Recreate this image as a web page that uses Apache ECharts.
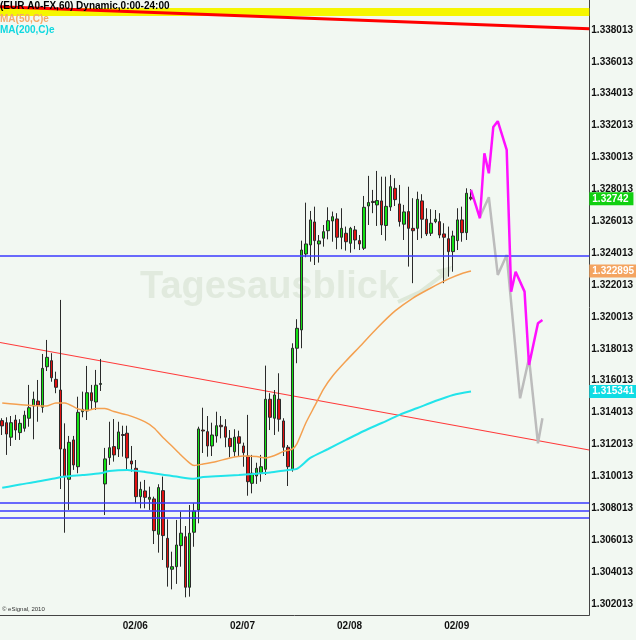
<!DOCTYPE html>
<html><head><meta charset="utf-8">
<script src="https://cdn.jsdelivr.net/npm/echarts@6/dist/echarts.min.js"></script>
<style>html,body{margin:0;padding:0;background:#f2f8f2;}#c{width:636px;height:640px;}</style>
</head><body><div id="c"></div>
<script>
// ---------- DATA ----------
const dayNames = ['02/04','02/05','02/06','02/07','02/08','02/09','02/10'];
const dayLabels = ['02/06','02/07','02/08','02/09'];
const startHour = 21;           // first bar: 02/04 21:00
const slotCount = 132;          // hourly slots on the axis

// [open, close, low, high]
const ohlc = [
[1.31351,1.31318,1.31261,1.31366],[1.31338,1.31267,1.31136,1.31372],[1.31247,1.31338,1.31192,1.31380],
[1.31355,1.31292,1.31230,1.31387],[1.31276,1.31334,1.31230,1.31360],[1.31303,1.31385,1.31282,1.31413],
[1.31366,1.31432,1.31313,1.31575],[1.31443,1.31485,1.31234,1.31533],[1.31474,1.31449,1.31344,1.31606],
[1.31435,1.31679,1.31401,1.31769],[1.31689,1.31748,1.31662,1.31857],[1.31727,1.31620,1.31595,1.31774],
[1.31610,1.31560,1.31523,1.31658],[1.31543,1.31173,1.30922,1.32108],[1.31173,1.31000,1.30648,1.31334],
[1.30983,1.31215,1.30791,1.31255],[1.31230,1.31073,1.31042,1.31255],[1.31062,1.31403,1.31021,1.31501],
[1.31407,1.31422,1.31372,1.31533],[1.31412,1.31526,1.31355,1.31694],[1.31526,1.31476,1.31418,1.31575],
[1.31468,1.31573,1.31418,1.31669],[1.31578,1.31584,1.31537,1.31738],[1.30954,1.31111,1.30759,1.31180],
[1.31119,1.31181,1.31073,1.31344],[1.31188,1.31136,1.31094,1.31361],[1.31173,1.31280,1.31123,1.31344],
[1.31264,1.31258,1.31125,1.31319],[1.31272,1.31117,1.31042,1.31319],[1.31098,1.31079,1.31031,1.31192],
[1.31052,1.30874,1.30833,1.31104],[1.30874,1.30920,1.30801,1.30968],[1.30910,1.30870,1.30801,1.30979],
[1.30858,1.30870,1.30791,1.30937],[1.30860,1.30661,1.30577,1.30874],[1.30638,1.30931,1.30523,1.30952],
[1.30912,1.30630,1.30477,1.31000],[1.30613,1.30431,1.30310,1.30732],[1.30419,1.30435,1.30293,1.30529],
[1.30435,1.30571,1.30327,1.30728],[1.30567,1.30645,1.30435,1.30780],[1.30623,1.30306,1.30243,1.30690],
[1.30306,1.30645,1.30247,1.30822],[1.30651,1.30784,1.30560,1.30833],[1.30791,1.31299,1.30707,1.31313],
[1.31292,1.31286,1.31148,1.31432],[1.31282,1.31192,1.31125,1.31380],[1.31192,1.31261,1.31129,1.31338],
[1.31255,1.31319,1.31213,1.31407],[1.31322,1.31313,1.31240,1.31380],[1.31313,1.31247,1.31184,1.31360],
[1.31240,1.31188,1.31121,1.31292],[1.31156,1.31247,1.31125,1.31297],[1.31250,1.31209,1.31125,1.31288],
[1.31192,1.31150,1.31062,1.31213],[1.31129,1.30968,1.30880,1.31387],[1.30958,1.31021,1.30895,1.31136],
[1.31004,1.31052,1.30954,1.31087],[1.31025,1.31062,1.30968,1.31136],[1.31046,1.31485,1.31010,1.31696],
[1.31485,1.31372,1.31292,1.31523],[1.31366,1.31512,1.31261,1.31543],[1.31485,1.31360,1.31282,1.31648],
[1.31349,1.31184,1.31129,1.31366],[1.31184,1.31062,1.30941,1.31198],[1.31046,1.31805,1.31031,1.31836],
[1.31805,1.31930,1.31711,1.31987],[1.31920,1.32421,1.31805,1.32480],[1.32396,1.32459,1.32376,1.32718],
[1.32453,1.32610,1.32348,1.32666],[1.32597,1.32480,1.32327,1.32693],[1.32459,1.32478,1.32342,1.32515],
[1.32495,1.32536,1.32442,1.32578],[1.32542,1.32605,1.32488,1.32689],[1.32603,1.32630,1.32473,1.32662],
[1.32616,1.32501,1.32426,1.32652],[1.32501,1.32557,1.32426,1.32683],[1.32526,1.32473,1.32417,1.32568],
[1.32463,1.32557,1.32404,1.32566],[1.32547,1.32484,1.32426,1.32572],[1.32480,1.32459,1.32421,1.32515],
[1.32432,1.32689,1.32421,1.32760],[1.32697,1.32719,1.32578,1.32886],[1.32726,1.32719,1.32652,1.32798],
[1.32704,1.32731,1.32572,1.32917],[1.32729,1.32578,1.32515,1.32881],[1.32575,1.32695,1.32480,1.32881],
[1.32691,1.32818,1.32666,1.32892],[1.32808,1.32737,1.32697,1.32871],[1.32710,1.32599,1.32568,1.32829],
[1.32583,1.32660,1.32484,1.32704],[1.32662,1.32557,1.32317,1.32818],[1.32557,1.32542,1.32213,1.32746],
[1.32557,1.32739,1.32484,1.32787],[1.32729,1.32614,1.32495,1.32771],[1.32614,1.32522,1.32509,1.32683],
[1.32526,1.32589,1.32509,1.32677],[1.32599,1.32614,1.32589,1.32672],[1.32599,1.32515,1.32495,1.32652],
[1.32522,1.32501,1.32213,1.32589],[1.32492,1.32411,1.32254,1.32568],[1.32411,1.32509,1.32285,1.32542],
[1.32480,1.32610,1.32421,1.32683],[1.32610,1.32530,1.32473,1.32693],[1.32530,1.32777,1.32484,1.32808],
[1.32752,1.32742,1.32732,1.32802]
];

// moving averages, [bar index, value]
const ma50Pts = [[0,1.31462],[5,1.31449],[10,1.31443],[12,1.31462],[14,1.31462],[17,1.31424],[19,1.31415],
[21,1.31427],[23,1.31427],[25,1.31408],[28,1.31387],[32,1.31343],[34,1.31305],[36,1.31245],[38,1.31192],
[40,1.31136],[42,1.31085],[43,1.31070],[45,1.31079],[48,1.31095],[51,1.31117],[54,1.31129],[57,1.31126],
[59,1.31117],[61,1.31132],[63,1.31158],[65,1.31173],[66,1.31205],[68,1.31336],[70,1.31443],[72,1.31550],
[74,1.31631],[77,1.31725],[80,1.31813],[84,1.31932],[88,1.32039],[92,1.32120],[96,1.32183],[100,1.32240],
[103,1.32274],[105,1.322895]];
const ma200Pts = [[0,1.30930],[4,1.30951],[7,1.30964],[11,1.30985],[14,1.31000],[18,1.31010],[22,1.31021],
[24,1.31035],[28,1.31042],[32,1.31029],[35,1.31016],[39,1.31000],[43,1.30987],[45,1.30998],[49,1.31004],
[53,1.31010],[56,1.31016],[60,1.31025],[64,1.31042],[66,1.31048],[69,1.31117],[73,1.31173],[77,1.31230],
[81,1.31286],[85,1.31336],[89,1.31387],[93,1.31430],[97,1.31474],[101,1.31512],[105,1.315341]];

// projected paths
const projMagenta = [[105,1.32798],[107,1.32620],[108,1.33028],[109,1.32902],[110,1.33193],[111,1.33229],
[113,1.33049],[114,1.32160],[115,1.32285],[117,1.32160],[118,1.31700],[120,1.31962],[121,1.31982]];
const projGray = [[107,1.32630],[109,1.32752],[111,1.32265],[113,1.32390],[116,1.31491],[118,1.31742],
[120,1.31209],[121,1.31366]];

// drawn levels
const blueLevels = [1.323858, 1.308365, 1.307888, 1.307449];
const trendLow = [[-0.5,1.31841],[131.5,1.31167]];
const trendTop = [[-0.5,1.33946],[131.5,1.33808]];
const yellowBand = [1.339392, 1.338891];

// axis
const yMin = 1.30132, yMax = 1.33989;
const yTicks = [1.302013,1.304013,1.306013,1.308013,1.310013,1.312013,1.314013,1.316013,1.318013,
1.320013,1.322013,1.324013,1.326013,1.328013,1.330013,1.332013,1.334013,1.336013,1.338013];

const lastClose = 1.32742, ma50Last = 1.322895, ma200Last = 1.315341;

// ---------- CHART ----------
const categories = [];
for (let i = 0; i < slotCount; i++) {
  const h = startHour + i;
  categories.push(dayNames[Math.floor(h / 24)] + ' ' + String(h % 24).padStart(2, '0') + ':00');
}
const isDayStart = (i, v) => v.endsWith(' 00:00') && dayLabels.includes(v.slice(0, 5));
const FONT = '"Liberation Sans", Arial, sans-serif';
const HIDDEN = {color: 'rgba(0,0,0,0)', width: 0};
const badge = (bg) => ({
  show: true, position: 'end', distance: 0, color: '#fff', backgroundColor: bg,
  padding: [2, 5, 1, 3], fontSize: 10, fontWeight: 'bold', fontFamily: FONT
});

const chart = echarts.init(document.getElementById('c'), null, {renderer: 'canvas'});
chart.setOption({
  animation: false,
  backgroundColor: '#f2f8f2',
  grid: {left: 0, right: 42, top: 0, bottom: 25},
  xAxis: [{
    type: 'category', data: categories, boundaryGap: true,
    axisLine: {onZero: false, lineStyle: {color: '#444', width: 1}},
    axisTick: {alignWithLabel: true, interval: isDayStart, length: 3, lineStyle: {color: '#444'}},
    axisLabel: {interval: isDayStart, formatter: v => v.slice(0, 5), align: 'left', color: '#111',
      fontSize: 10, fontWeight: 'bold', fontFamily: FONT, margin: 6},
    splitLine: {show: false}
  }, {
    type: 'value', min: -0.5, max: slotCount - 0.5, show: false,
    axisLine: {onZero: false}
  }],
  yAxis: {
    type: 'value', position: 'right', min: yMin, max: yMax,
    axisLine: {show: true, onZero: false, lineStyle: {color: '#444'}},
    axisTick: {show: false},
    splitLine: {show: false},
    axisLabel: {customValues: yTicks, formatter: v => v.toFixed(6), color: '#111', fontSize: 10,
      fontWeight: 'bold', fontFamily: FONT, margin: 2}
  },
  graphic: [
    {type: 'text', left: 140, top: 269, z: 1, silent: true,
      style: {text: 'Tagesausblick', font: 'bold 38px ' + FONT, fill: '#e1eade'}},
    {type: 'polyline', z: 1, silent: true, shape: {points: [[398, 302], [420, 292], [444, 274]]},
      style: {stroke: '#dde8d8', lineWidth: 4, fill: null}},
    {type: 'polygon', z: 1, silent: true, shape: {points: [[436, 270], [452, 266], [446, 281]]},
      style: {fill: '#dde8d8'}},
    {type: 'text', left: 0, top: 1, z: 100, silent: true,
      style: {text: '(EUR A0-FX,60) Dynamic,0:00-24:00', font: 'bold 10px ' + FONT, fill: '#000'}},
    {type: 'text', left: 0, top: 14, z: 100, silent: true,
      style: {text: 'MA(50,C)e', font: 'bold 10px ' + FONT, fill: '#f4a868'}},
    {type: 'text', left: 0, top: 25, z: 100, silent: true,
      style: {text: 'MA(200,C)e', font: 'bold 10px ' + FONT, fill: '#10d8e0'}},
    {type: 'text', left: 2, top: 606, z: 100, silent: true,
      style: {text: '\u00a9 eSignal, 2010', font: '6px ' + FONT, fill: '#333'}}
  ],
  series: [
    {type: 'line', name: 'topTrend', xAxisIndex: 1, data: trendTop, symbol: 'none', silent: true, z: 1,
      lineStyle: {color: '#ff0000', width: 3}},
    {type: 'line', name: 'band', xAxisIndex: 1, data: [], symbol: 'none', silent: true, z: 3,
      markArea: {silent: true, itemStyle: {color: '#f6f600'},
        data: [[{yAxis: yellowBand[0]}, {yAxis: yellowBand[1]}]]}},
    {type: 'line', name: 'lowTrend', xAxisIndex: 1, data: trendLow, symbol: 'none', silent: true, z: 1,
      lineStyle: {color: '#ff3a3a', width: 1.2}},
    {type: 'candlestick', name: 'EUR', data: ohlc, barWidth: 3, z: 2,
      itemStyle: {color: '#14e014', color0: '#e01010', borderColor: '#2a2a2a', borderColor0: '#2a2a2a', borderWidth: 1},
      markLine: {symbol: 'none', silent: true, animation: false, precision: 6,
        data: blueLevels.map(v => ({yAxis: v, lineStyle: {color: '#3a3aff', width: 1.5, type: 'solid'}, label: {show: false}}))
          .concat([{yAxis: lastClose, lineStyle: HIDDEN, label: badge('#10d010')}])}},
    {type: 'line', name: 'MA50', data: ma50Pts, symbol: 'none', smooth: 0.25, z: 3,
      lineStyle: {color: '#f4a050', width: 1.5},
      markLine: {symbol: 'none', silent: true, precision: 6,
        data: [{yAxis: ma50Last, lineStyle: HIDDEN, label: badge('#f4a460')}]}},
    {type: 'line', name: 'MA200', data: ma200Pts, symbol: 'none', smooth: 0.25, z: 3,
      lineStyle: {color: '#22e4ea', width: 2},
      markLine: {symbol: 'none', silent: true, precision: 6,
        data: [{yAxis: ma200Last, lineStyle: HIDDEN, label: badge('#10dce4')}]}},
    {type: 'line', name: 'projGray', data: projGray, symbol: 'none', z: 4,
      lineStyle: {color: '#bcbcbc', width: 2.5}},
    {type: 'line', name: 'projMagenta', data: projMagenta, symbol: 'none', z: 5,
      lineStyle: {color: '#ff10ff', width: 2.5}}
  ]
});
</script></body></html>
